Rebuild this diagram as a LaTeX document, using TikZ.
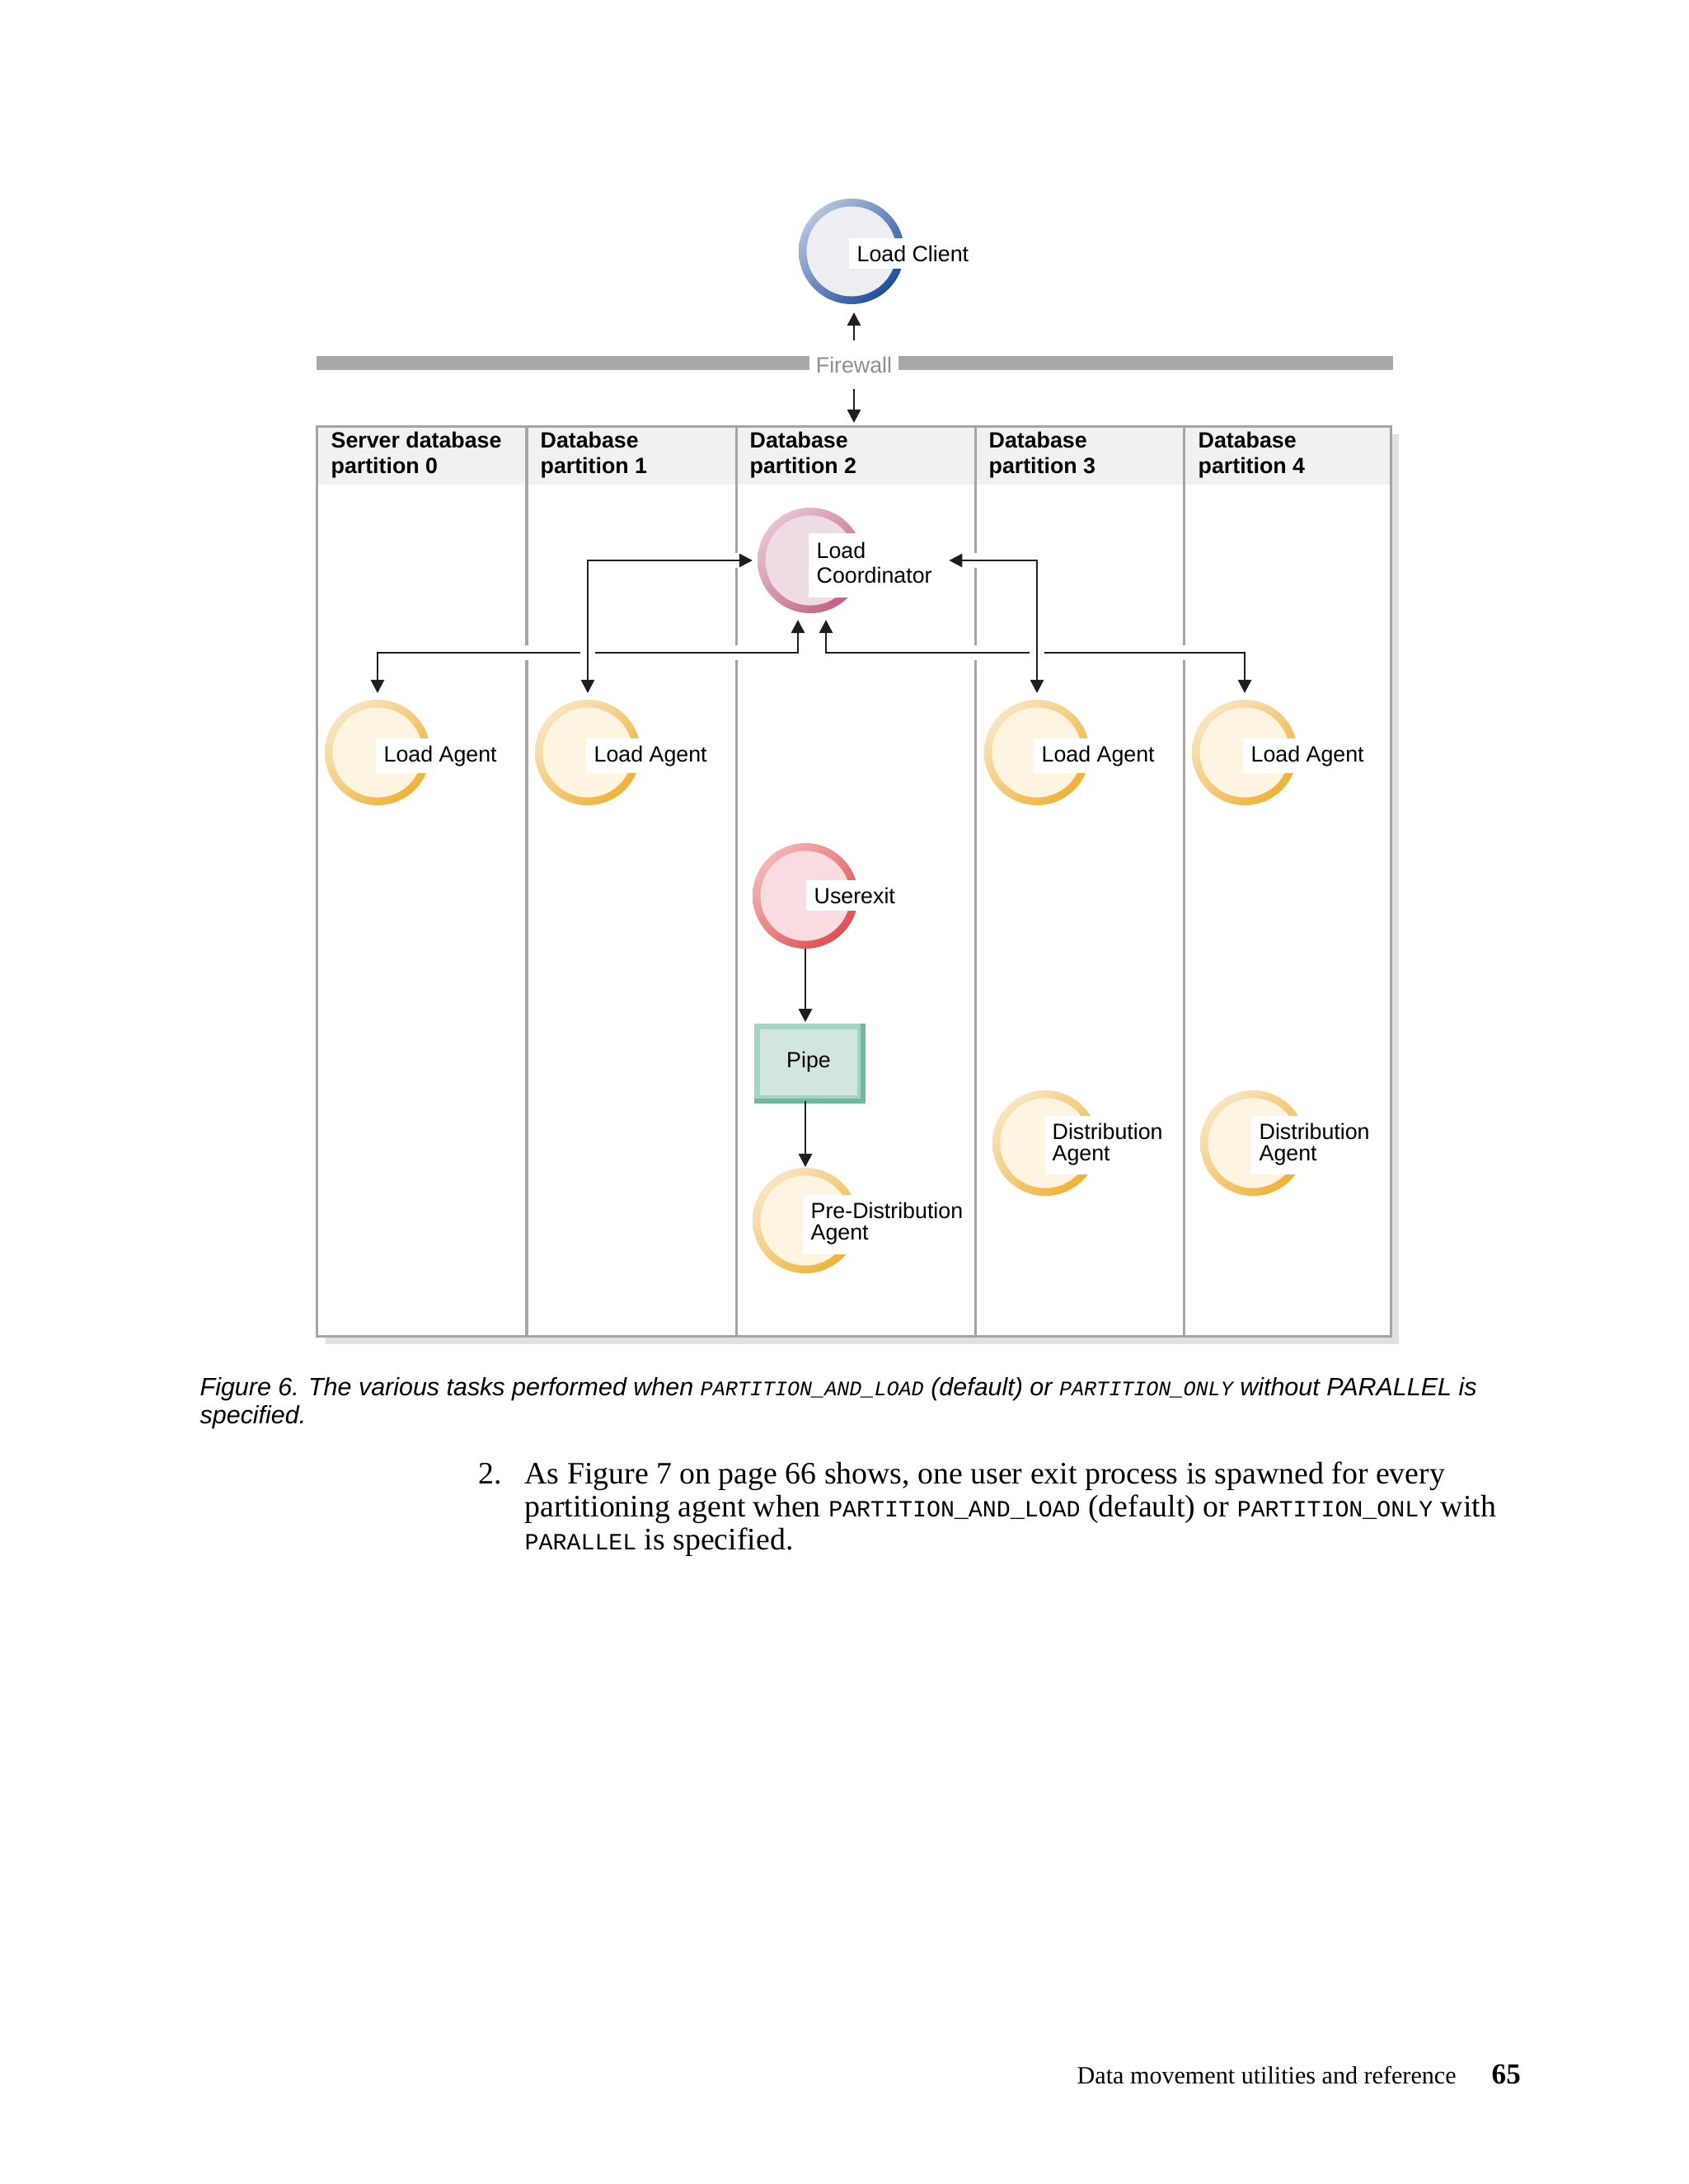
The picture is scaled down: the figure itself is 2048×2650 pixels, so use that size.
\documentclass[tikz,border=0pt]{standalone}
\usepackage{fontspec}
\setmainfont{Liberation Serif}
\setsansfont{Liberation Sans}
\setmonofont{Liberation Mono}
\usetikzlibrary{arrows.meta,calc}
\definecolor{gridc}{HTML}{A5A5A8}
\definecolor{hdrc}{HTML}{F1F1F3}
\definecolor{shadowc}{HTML}{E0E0E2}
\definecolor{barc}{HTML}{A8A8AA}
\definecolor{fwtext}{HTML}{8E8E91}
\definecolor{connc}{HTML}{1E1E1E}
\definecolor{blueL}{HTML}{B4C2DE}
\definecolor{blueD}{HTML}{1F4E9F}
\definecolor{blueF}{HTML}{ECEEF2}
\definecolor{pinkL}{HTML}{E6C2D2}
\definecolor{pinkD}{HTML}{C45E87}
\definecolor{pinkF}{HTML}{EEDCE4}
\definecolor{redL}{HTML}{F4B4B4}
\definecolor{redD}{HTML}{DE5050}
\definecolor{redF}{HTML}{F8DCDF}
\definecolor{yelL}{HTML}{F8E4BE}
\definecolor{yelD}{HTML}{EFB236}
\definecolor{yelF}{HTML}{FDF5E2}
\definecolor{pipeF}{HTML}{D3E6DE}
\definecolor{pipeL}{HTML}{A4D4C3}
\definecolor{pipeD}{HTML}{72B8A0}
\newcommand\dfont{\sffamily\fontsize{8bp}{9bp}\selectfont}
\newcommand\twol[2]{\begin{tabular}[t]{@{}l@{}}#1\\#2\end{tabular}}
\newcommand\cmono[1]{{\ttfamily\fontsize{7.5bp}{10bp}\selectfont #1}}
\newcommand\bmono[1]{{\ttfamily\fontsize{8.45bp}{12bp}\selectfont #1}}
\begin{document}
\begin{tikzpicture}[x=0.29883bp,y=-0.29883bp,
  ring/.style n args={3}{circle, minimum size=38.25bp, inner sep=0pt, outer sep=0pt,
    path picture={
      \shade[top color=#1, bottom color=#2, shading angle=45]
        (path picture bounding box.south west) rectangle (path picture bounding box.north east);
      \fill[#3] (path picture bounding box.center) circle (16.3bp);
    }},
  lbl/.style={fill=white, inner xsep=3bp, inner ysep=2.6bp, anchor=base west, font=\dfont},
  hdr/.style={anchor=base west, inner sep=0pt, font=\sffamily\bfseries\fontsize{8bp}{9.5bp}\selectfont},
  gridline/.style={draw=gridc, line width=0.9bp},
  conn/.style={draw=connc, line width=0.85bp, -{Triangle[length=4.8bp,width=4.8bp]}},
  dbl/.style={draw=connc, line width=0.85bp, {Triangle[length=4.8bp,width=4.8bp]}-{Triangle[length=4.8bp,width=4.8bp]},
    preaction={draw=white, line width=5.4bp, arrows=-}},
]
\fill[white] (0,0) rectangle (2048,2650);
\useasboundingbox (0,0) rectangle (2048,2650);

% firewall
\fill[barc] (384,432) rectangle (1690,449);
\node[anchor=base, fill=white, inner xsep=2.4bp, inner ysep=1bp, text height=6bp, text depth=1.7bp,
      font=\sffamily\fontsize{8bp}{9bp}\selectfont, text=fwtext] (fw) at (1036,452) {Firewall};

% table
\fill[shadowc] (395,527) rectangle (1697,1631);
\node[fill=white, minimum width=389.08bp, minimum height=329.9bp, inner sep=0pt, outer sep=0pt] (tbl) at (1036,1069) {};
\fill[hdrc] (tbl.north west) rectangle ($(tbl.north east)+(0,71)$);
\foreach \xx in {639,893,1183,1436} \draw[gridline] (\xx,517) -- (\xx,1621);
\draw[gridline] (tbl.north west) rectangle (tbl.south east);

\node[hdr] (h0) at (401,543) {\twol{Server database}{partition 0}};
\node[hdr] (h1) at (655,543) {\twol{Database}{partition 1}};
\node[hdr] (h2) at (909,543) {\twol{Database}{partition 2}};
\node[hdr] (h3) at (1199,543) {\twol{Database}{partition 3}};
\node[hdr] (h4) at (1453,543) {\twol{Database}{partition 4}};

% process circles
\node[ring={blueL}{blueD}{blueF}] (lc) at (1033,305) {};
\node[lbl] (lcl) at (1029,317) {Load Client};

\node[ring={pinkL}{pinkD}{pinkF}] (co) at (983,680) {};
\node[lbl] (col) at (980,677) {\twol{Load}{Coordinator}};

\node[ring={yelL}{yelD}{yelF}] (a0) at (458,913) {};
\node[lbl] (a0l) at (455,924) {Load Agent};
\node[ring={yelL}{yelD}{yelF}] (a1) at (713,913) {};
\node[lbl] (a1l) at (710,924) {Load Agent};
\node[ring={yelL}{yelD}{yelF}] (a3) at (1258,913) {};
\node[lbl] (a3l) at (1253,924) {Load Agent};
\node[ring={yelL}{yelD}{yelF}] (a4) at (1510,913) {};
\node[lbl] (a4l) at (1507,924) {Load Agent};

\node[ring={redL}{redD}{redF}] (ux) at (977,1087) {};
\node[lbl] (uxl) at (977,1096) {Userexit};

\node[fill=pipeF, draw=pipeL, line width=2bp, minimum width=37.5bp, minimum height=26bp, inner sep=0pt,
      font=\dfont] (pipe) at (981,1289) {Pipe};
\draw[pipeD, line width=2bp] (pipe.north east) -- (pipe.south east) -- (pipe.south west);

\node[ring={yelL}{yelD}{yelF}] (pd) at (977,1481) {};
\node[lbl, font=\sffamily\fontsize{8bp}{8bp}\selectfont] (pdl) at (973,1478) {\twol{Pre-Distribution}{Agent}};

\node[ring={yelL}{yelD}{yelF}] (d3) at (1268,1387) {};
\node[lbl, font=\sffamily\fontsize{8bp}{7.9bp}\selectfont] (d3l) at (1266,1382) {\twol{Distribution}{Agent}};
\node[ring={yelL}{yelD}{yelF}] (d4) at (1520,1387) {};
\node[lbl, font=\sffamily\fontsize{8bp}{7.9bp}\selectfont] (d4l) at (1517,1382) {\twol{Distribution}{Agent}};

% connectors
\draw[conn, shorten <=4.5bp, shorten >=3bp] (fw.north) -- (fw.north |- lc.south);
\draw[conn, shorten <=3bp, shorten >=1.2bp] (fw.south) -- (fw.south |- tbl.north);

\draw[dbl, shorten <=2.4bp, shorten >=2.4bp] ($(co.south)+(-15,0)$) -- ++(0,48) -| (a0.north);
\draw[dbl, shorten <=2.4bp, shorten >=2.4bp] ($(co.south)+(19,0)$) -- ++(0,48) -| (a4.north);
\draw[dbl, shorten <=1.8bp, shorten >=2.4bp] (co.west) -| (a1.north);
\draw[dbl, shorten <=3bp, shorten >=2.4bp] (col.east |- co.east) -| (a3.north);

\draw[conn, shorten >=0.6bp] (ux.south) -- (ux.south |- pipe.north);
\draw[conn, shorten >=0.3bp] (pipe.south -| ux.south) -- (pipe.south -| pd.north) -- (pd.north);

% caption
\node[anchor=base west, inner sep=0pt, font=\sffamily\itshape\fontsize{9.1bp}{10.2bp}\selectfont] (cap) at (242,1693)
  {\twol{Figure 6. The various tasks performed when \cmono{PARTITION\_AND\_LOAD} (default) or \cmono{PARTITION\_ONLY} without PARALLEL is}{specified.}};

% body text
\node[anchor=base west, inner sep=0pt, font=\rmfamily\fontsize{11.3bp}{12bp}\selectfont] (num) at (580,1800) {2.};
\node[anchor=base west, inner sep=0pt, font=\rmfamily\fontsize{11.3bp}{12bp}\selectfont] (body) at (636,1800)
  {\begin{tabular}[t]{@{}l@{}}As Figure 7 on page 66 shows, one user exit process is spawned for every\\
   partitioning agent when \bmono{PARTITION\_AND\_LOAD} (default) or \bmono{PARTITION\_ONLY} with\\
   \bmono{PARALLEL} is specified.\end{tabular}};

% footer
\node[anchor=base west, inner sep=0pt, font=\rmfamily\fontsize{9bp}{11bp}\selectfont] (foot) at (1306,2528) {Data movement utilities and reference};
\node[anchor=base west, inner sep=0pt, font=\rmfamily\bfseries\fontsize{10.5bp}{11bp}\selectfont] (pg) at (1809,2528) {65};
\end{tikzpicture}
\end{document}
